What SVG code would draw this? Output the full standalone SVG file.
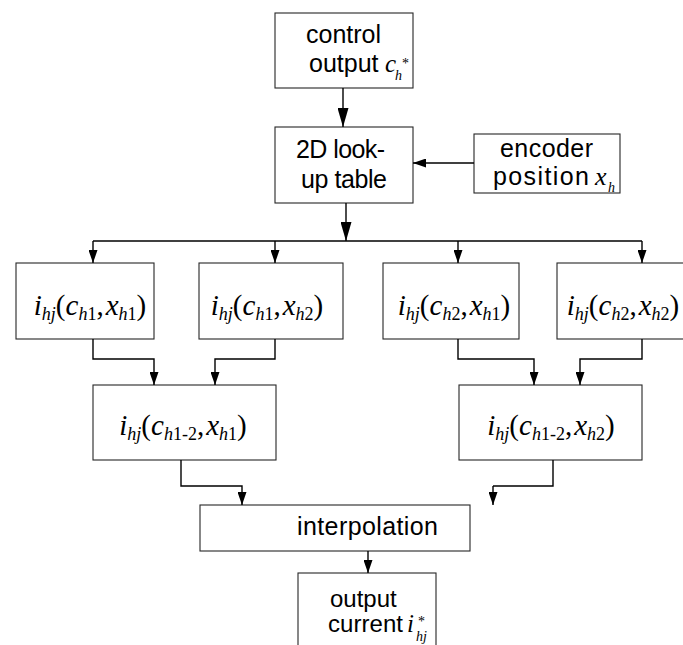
<svg xmlns="http://www.w3.org/2000/svg" width="683" height="645" viewBox="0 0 683 645">
  <style>
    .box { fill: #ffffff; stroke: #262626; stroke-width: 1.1; }
    .lbl { font-family: "Liberation Sans", Arial, sans-serif; font-size: 25px; fill: #000; }
    .m { font-family: "Liberation Serif", "Times New Roman", serif; font-size: 29px; fill: #000; }
    .c { text-anchor: middle; }
    .it { font-style: italic; }
    .up { font-style: normal; }
    .s { font-size: 18px; }
    .t { font-size: 14px; }
    .wire { fill: none; stroke: #000; stroke-width: 1.4; }
  </style>
  <defs>
    <marker id="arr" viewBox="0 0 13 9" refX="13" refY="4.5" markerWidth="13" markerHeight="9" markerUnits="userSpaceOnUse" orient="auto">
      <path d="M0,0 L13,4.5 L0,9 Z" fill="#000"/>
    </marker>
    <marker id="arrL" viewBox="0 0 19 11" refX="19" refY="5.5" markerWidth="19" markerHeight="11" markerUnits="userSpaceOnUse" orient="auto">
      <path d="M0,0 L19,5.5 L0,11 Z" fill="#000"/>
    </marker>
  </defs>

  <rect width="683" height="645" fill="#ffffff"/>

  <!-- control output -->
  <g id="control">
    <rect class="box" x="275" y="13" width="138" height="75"/>
    <text class="lbl" x="306" y="43">control</text>
    <text class="lbl" x="309" y="72">output</text>
    <text class="m it" x="385" y="72" style="font-size:25px">c<tspan class="t up" x="402" y="68">*</tspan><tspan class="t" x="395" y="80">h</tspan></text>
  </g>

  <!-- lookup table -->
  <g id="lookup">
    <rect class="box" x="275" y="127" width="138" height="76"/>
    <text class="lbl" x="296" y="158" textLength="89">2D look-</text>
    <text class="lbl" x="301" y="188" textLength="86">up table</text>
  </g>

  <!-- encoder position -->
  <g id="encoder">
    <rect class="box" x="474" y="134" width="146" height="59"/>
    <text class="lbl" x="500" y="157" textLength="93">encoder</text>
    <text class="lbl" x="493" y="185" textLength="96">position</text>
    <text class="m it" x="595" y="185" style="font-size:26px">x<tspan class="t" x="608" y="192">h</tspan></text>
  </g>

  <!-- corner samples -->
  <g id="n11">
    <rect class="box" x="16" y="263" width="138" height="76"/>
    <text class="m c" x="90" y="315"><tspan class="it">i</tspan><tspan class="s it" dy="5">hj</tspan><tspan dy="-5">(</tspan><tspan class="it">c</tspan><tspan class="s it" dy="5">h</tspan><tspan class="s">1</tspan><tspan dy="-5">,</tspan><tspan class="it" dx="2">x</tspan><tspan class="s it" dy="5">h</tspan><tspan class="s">1</tspan><tspan dy="-5">)</tspan></text>
  </g>
  <g id="n12">
    <rect class="box" x="199" y="263" width="144" height="76"/>
    <text class="m c" x="267" y="315"><tspan class="it">i</tspan><tspan class="s it" dy="5">hj</tspan><tspan dy="-5">(</tspan><tspan class="it">c</tspan><tspan class="s it" dy="5">h</tspan><tspan class="s">1</tspan><tspan dy="-5">,</tspan><tspan class="it" dx="2">x</tspan><tspan class="s it" dy="5">h</tspan><tspan class="s">2</tspan><tspan dy="-5">)</tspan></text>
  </g>
  <g id="n21">
    <rect class="box" x="383" y="263" width="136" height="76"/>
    <text class="m c" x="454" y="315"><tspan class="it">i</tspan><tspan class="s it" dy="5">hj</tspan><tspan dy="-5">(</tspan><tspan class="it">c</tspan><tspan class="s it" dy="5">h</tspan><tspan class="s">2</tspan><tspan dy="-5">,</tspan><tspan class="it" dx="2">x</tspan><tspan class="s it" dy="5">h</tspan><tspan class="s">1</tspan><tspan dy="-5">)</tspan></text>
  </g>
  <g id="n22">
    <rect class="box" x="557" y="263" width="140" height="76"/>
    <text class="m c" x="623" y="315"><tspan class="it">i</tspan><tspan class="s it" dy="5">hj</tspan><tspan dy="-5">(</tspan><tspan class="it">c</tspan><tspan class="s it" dy="5">h</tspan><tspan class="s">2</tspan><tspan dy="-5">,</tspan><tspan class="it" dx="2">x</tspan><tspan class="s it" dy="5">h</tspan><tspan class="s">2</tspan><tspan dy="-5">)</tspan></text>
  </g>

  <!-- intermediate interpolants -->
  <g id="m1">
    <rect class="box" x="93" y="385" width="183" height="75"/>
    <text class="m c" x="183" y="435"><tspan class="it">i</tspan><tspan class="s it" dy="5">hj</tspan><tspan dy="-5">(</tspan><tspan class="it">c</tspan><tspan class="s it" dy="5">h</tspan><tspan class="s">1-2</tspan><tspan dy="-5">,</tspan><tspan class="it" dx="2">x</tspan><tspan class="s it" dy="5">h</tspan><tspan class="s">1</tspan><tspan dy="-5">)</tspan></text>
  </g>
  <g id="m2">
    <rect class="box" x="459" y="385" width="183" height="75"/>
    <text class="m c" x="551" y="435"><tspan class="it">i</tspan><tspan class="s it" dy="5">hj</tspan><tspan dy="-5">(</tspan><tspan class="it">c</tspan><tspan class="s it" dy="5">h</tspan><tspan class="s">1-2</tspan><tspan dy="-5">,</tspan><tspan class="it" dx="2">x</tspan><tspan class="s it" dy="5">h</tspan><tspan class="s">2</tspan><tspan dy="-5">)</tspan></text>
  </g>

  <!-- interpolation -->
  <g id="interp">
    <rect class="box" x="200" y="505" width="270" height="46"/>
    <text class="lbl" x="297" y="535" textLength="141">interpolation</text>
  </g>

  <!-- output current -->
  <g id="out">
    <rect class="box" x="298" y="573" width="138" height="90"/>
    <text class="lbl" x="330" y="607" style="font-size:24px">output</text>
    <text class="lbl" x="328" y="632" style="font-size:24px" textLength="75">current</text>
    <text class="m it" x="407" y="632" style="font-size:25px">i<tspan class="t up" x="418" y="626">*</tspan><tspan class="t" x="416" y="641">hj</tspan></text>
  </g>

  <!-- connectors -->
  <g id="connectors">
    <path class="wire" d="M343,88 V127" marker-end="url(#arrL)"/>
    <path class="wire" d="M474,163 H413" marker-end="url(#arr)"/>
    <path class="wire" d="M346,203 V241" marker-end="url(#arrL)"/>
    <path class="wire" d="M93,241 H642"/>
    <path class="wire" d="M93,241 V263" marker-end="url(#arr)"/>
    <path class="wire" d="M275,241 V263" marker-end="url(#arr)"/>
    <path class="wire" d="M458,241 V263" marker-end="url(#arr)"/>
    <path class="wire" d="M642,241 V263" marker-end="url(#arr)"/>
    <polyline class="wire" points="93,339 93,359 154,359 154,385" marker-end="url(#arr)"/>
    <polyline class="wire" points="275,339 275,359 215,359 215,385" marker-end="url(#arr)"/>
    <polyline class="wire" points="458,339 458,359 534,359 534,385" marker-end="url(#arr)"/>
    <polyline class="wire" points="642,339 642,359 580,359 580,385" marker-end="url(#arr)"/>
    <polyline class="wire" points="181,460 181,486 242,486 242,505" marker-end="url(#arr)"/>
    <path class="wire" d="M553,460 V486 H493"/>
    <path class="wire" d="M493,486 V505" marker-end="url(#arr)"/>
    <path class="wire" d="M368,551 V573" marker-end="url(#arr)"/>
  </g>
</svg>
